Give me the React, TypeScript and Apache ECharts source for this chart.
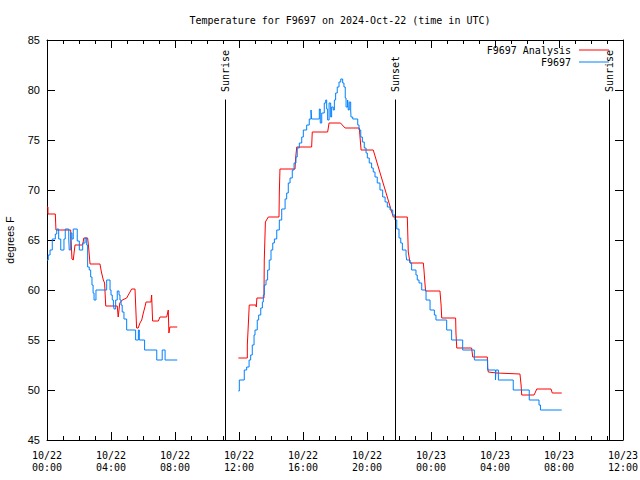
import React, { useEffect, useRef } from 'react';
import * as echarts from 'echarts';

// hours since 2024-10-22 00:00 UTC, degrees F
const analysisMorning: [number, number][] = [
  [0.0, 68.3], [0.06, 68.3], [0.06, 67.6], [0.52, 67.6], [0.56, 66.0], [1.48, 66.0], [1.56, 63.1], [1.64, 63.0],
  [1.75, 64.5], [2.23, 64.5], [2.3, 65.2], [2.54, 65.2], [2.6, 64.3], [2.69, 62.6], [3.31, 62.6], [3.4, 61.8],
  [3.52, 61.0], [3.6, 60.7], [3.67, 58.4], [4.39, 58.4], [4.45, 57.3], [4.55, 58.7], [4.7, 59.0], [4.98, 59.2],
  [5.08, 59.5], [5.19, 59.8], [5.29, 60.1], [5.5, 60.1], [5.6, 56.2], [5.7, 56.2], [5.81, 56.7], [5.92, 57.0],
  [6.02, 57.7], [6.12, 58.3], [6.19, 58.8], [6.5, 58.8], [6.54, 59.5], [6.6, 56.9], [6.96, 56.9], [7.06, 57.3],
  [7.48, 57.3], [7.58, 58.0], [7.62, 55.7], [7.68, 56.3], [8.14, 56.3],
];

const analysisDay: [number, number][] = [
  [11.96, 53.2], [12.52, 53.2], [12.52, 54.5], [12.6, 57.1], [12.64, 58.5], [13.06, 58.5], [13.08, 58.3], [13.12, 59.2],
  [13.56, 59.2], [13.58, 63.0], [13.65, 66.8], [13.83, 67.3], [14.5, 67.3], [14.52, 69.7], [14.56, 72.1], [15.5, 72.1],
  [15.54, 73.2], [15.61, 74.3], [16.54, 74.3], [16.58, 75.8], [17.54, 75.8], [17.63, 76.7], [18.34, 76.7], [18.63, 76.2],
  [19.52, 76.2], [19.58, 75.0], [19.63, 74.0], [20.39, 74.0], [21.64, 67.3], [22.52, 67.3], [22.58, 63.8], [22.69, 62.7],
  [23.52, 62.7], [23.56, 62.0], [23.63, 60.5], [23.66, 59.9], [24.56, 59.9], [24.63, 58.5], [24.67, 57.2], [25.54, 57.2],
  [25.56, 55.7], [25.61, 54.2], [26.54, 54.2], [26.61, 53.3], [27.52, 53.3], [27.54, 52.3], [27.58, 51.8], [28.11, 51.7],
  [29.56, 51.6], [29.63, 50.5], [29.67, 49.5], [30.44, 49.5], [30.5, 49.7], [30.61, 50.1], [31.5, 50.1], [31.58, 49.7],
  [32.17, 49.7],
];

const stationMorning: [number, number][] = [
  [0.0, 63.0], [0.08, 63.5], [0.19, 64.0], [0.33, 65.1], [0.52, 65.6], [0.61, 66.1], [0.73, 65.1], [0.86, 64.0],
  [1.06, 65.1], [1.14, 66.1], [1.36, 65.1], [1.39, 64.0], [1.48, 65.7], [1.56, 65.1], [1.64, 66.1], [1.89, 64.9],
  [2.02, 64.0], [2.23, 64.7], [2.38, 65.2], [2.48, 64.5], [2.54, 62.3], [2.64, 62.0], [2.73, 61.3], [2.81, 60.5],
  [2.88, 59.7], [2.94, 59.0], [3.06, 60.0], [3.73, 61.0], [3.94, 60.0], [4.0, 59.5], [4.08, 59.0], [4.15, 58.5],
  [4.19, 58.1], [4.29, 59.0], [4.39, 59.9], [4.5, 59.5], [4.56, 59.0], [4.63, 58.5], [4.7, 57.8], [4.81, 57.1],
  [4.98, 56.0], [5.54, 55.0], [5.71, 56.0], [5.77, 55.0], [6.1, 54.0], [6.86, 53.0], [7.2, 54.0], [7.38, 53.0],
  [8.14, 53.0],
];

const stationDay: [number, number][] = [
  [11.96, 49.9], [12.02, 51.0], [12.33, 52.0], [12.48, 52.3], [12.63, 53.0], [12.73, 53.5], [12.83, 54.5], [12.94, 55.5],
  [13.0, 56.0], [13.14, 57.0], [13.23, 57.5], [13.36, 58.2], [13.46, 58.8], [13.52, 59.5], [13.58, 60.5], [13.69, 61.0],
  [13.79, 62.0], [13.89, 63.0], [14.0, 64.0], [14.11, 64.7], [14.21, 65.1], [14.36, 66.0], [14.52, 67.0], [14.67, 68.1],
  [14.88, 69.1], [14.98, 69.7], [15.08, 70.7], [15.19, 71.2], [15.33, 72.0], [15.44, 72.7], [15.56, 73.3], [15.64, 74.2],
  [15.77, 74.7], [15.92, 75.3], [16.02, 76.0], [16.23, 76.5], [16.39, 77.1], [16.5, 78.0], [16.54, 77.1], [17.02, 78.1],
  [17.08, 76.7], [17.17, 77.7], [17.33, 78.7], [17.42, 79.0], [17.48, 78.1], [17.54, 77.0], [17.63, 78.7], [17.73, 77.3],
  [17.79, 78.3], [17.89, 78.0], [17.96, 79.0], [18.04, 79.7], [18.14, 80.3], [18.25, 80.8], [18.36, 81.1], [18.48, 80.7],
  [18.56, 80.3], [18.64, 79.2], [18.69, 78.3], [18.79, 79.0], [18.83, 78.0], [18.89, 78.8], [18.98, 78.0], [19.0, 77.3],
  [19.11, 77.1], [19.42, 76.5], [19.5, 76.0], [19.61, 75.3], [19.71, 74.8], [19.83, 74.2], [19.94, 73.7], [20.02, 73.2],
  [20.14, 72.7], [20.29, 72.2], [20.39, 71.8], [20.5, 71.3], [20.64, 70.7], [20.81, 70.0], [20.98, 69.3], [21.13, 68.8],
  [21.27, 68.3], [21.44, 68.0], [21.61, 67.5], [21.75, 67.0], [21.86, 66.1], [22.0, 65.2], [22.11, 64.7], [22.21, 64.0],
  [22.44, 63.5], [22.48, 63.0], [22.69, 62.7], [22.79, 62.0], [23.06, 61.5], [23.14, 61.0], [23.25, 60.7], [23.42, 60.0],
  [23.69, 59.0], [23.94, 58.0], [24.21, 57.5], [24.31, 57.0], [24.98, 56.0], [25.29, 55.0], [25.98, 54.0], [26.71, 53.0],
  [27.54, 52.0], [28.03, 51.0], [28.06, 52.0], [28.21, 51.0], [29.14, 50.0], [30.14, 49.0], [30.75, 48.5], [30.84, 48.0],
  [32.17, 48.0],
];

const xTickLabels = [
  '10/22\n00:00', '10/22\n04:00', '10/22\n08:00', '10/22\n12:00', '10/22\n16:00',
  '10/22\n20:00', '10/23\n00:00', '10/23\n04:00', '10/23\n08:00', '10/23\n12:00',
];
const sunEventNames = ['Sunrise', 'Sunset', 'Sunrise'];
const sunEventHours = [11.15, 21.75, 35.15];

const X_MIN = 0;
const X_MAX = 36;
const X_STEP = 4;
const Y_MIN = 45;
const Y_MAX = 85;
const Y_STEP = 5;
const SUN_LINE_TOP = 79.05;
const SUN_LABEL_BASE = 79.8;

const MONO = 'DejaVu Sans Mono';
const SANS = 'Liberation Sans';
const RED = '#ff0000';
const BLUE = '#0080ff';

function withGap(a: [number, number][], b: [number, number][]) {
  const gapX = a[a.length - 1][0] + 0.0001;
  return [...a, [gapX, '-'], ...b];
}

export default function App() {
  const ref = useRef<HTMLDivElement>(null);
  useEffect(() => {
    if (!ref.current) return;
    const chart = echarts.init(ref.current, undefined, { renderer: 'svg' });

    const xAxisBase = {
      type: 'value' as const,
      min: X_MIN,
      max: X_MAX,
      interval: X_STEP,
      axisLine: { show: true, onZero: false, lineStyle: { color: '#000', width: 1 } },
      axisTick: { show: true, inside: true, length: 8, lineStyle: { color: '#000' } },
      minorTick: { show: true, splitNumber: 4, length: 4, lineStyle: { color: '#000' } },
      splitLine: { show: false },
      minorSplitLine: { show: false },
    };
    const yAxisBase = {
      type: 'value' as const,
      min: Y_MIN,
      max: Y_MAX,
      interval: Y_STEP,
      axisLine: { show: true, onZero: false, lineStyle: { color: '#000', width: 1 } },
      axisTick: { show: true, inside: true, length: 8, lineStyle: { color: '#000' } },
      splitLine: { show: false },
    };

    chart.setOption({
      animation: false,
      backgroundColor: '#ffffff',
      title: {
        text: 'Temperature for F9697 on 2024-Oct-22 (time in UTC)',
        left: 335,
        textAlign: 'center',
        top: 10,
        textStyle: { fontFamily: MONO, fontSize: 10, fontWeight: 'normal', color: '#000' },
      },
      legend: {
        orient: 'vertical',
        right: 26,
        top: 40,
        align: 'right',
        icon: 'rect',
        itemWidth: 30,
        itemHeight: 1,
        itemGap: 2,
        textStyle: { fontFamily: MONO, fontSize: 10, color: '#000', padding: [0, 3, 0, 0] },
        data: ['F9697 Analysis', 'F9697'],
      },
      grid: { left: 47, right: 17, top: 40, bottom: 40, containLabel: false, outerBoundsMode: 'none' },
      xAxis: [
        {
          ...xAxisBase,
          position: 'bottom',
          axisLabel: {
            show: true,
            margin: 9,
            lineHeight: 12,
            fontFamily: MONO,
            fontSize: 10,
            color: '#000',
            showMinLabel: true,
            showMaxLabel: true,
            formatter: (v: number) => xTickLabels[Math.round((v - X_MIN) / X_STEP)] ?? '',
          },
        },
        { ...xAxisBase, position: 'top', axisLabel: { show: false } },
      ],
      yAxis: [
        {
          ...yAxisBase,
          position: 'left',
          name: 'degrees F',
          nameLocation: 'middle',
          nameGap: 32,
          nameTextStyle: { fontFamily: SANS, fontSize: 10.5, color: '#000' },
          axisLabel: { show: true, margin: 7, fontFamily: SANS, fontSize: 11, color: '#000' },
        },
        { ...yAxisBase, position: 'right', axisLabel: { show: false } },
      ],
      series: [
        {
          name: 'F9697 Analysis',
          type: 'line',
          xAxisIndex: 0,
          yAxisIndex: 0,
          data: withGap(analysisMorning, analysisDay),
          symbol: 'none',
          showSymbol: false,
          connectNulls: false,
          lineStyle: { color: RED, width: 1 },
          itemStyle: { color: RED },
          markLine: {
            silent: true,
            symbol: ['none', 'none'],
            label: { show: false },
            lineStyle: { color: '#000', width: 1, type: 'solid' },
            data: sunEventHours.map((h) => [
              { coord: [h, Y_MIN] },
              { coord: [h, SUN_LINE_TOP] },
            ]),
          },
          markPoint: {
            silent: true,
            symbol: 'circle',
            symbolSize: 0,
            itemStyle: { color: 'rgba(0,0,0,0)' },
            label: {
              show: true,
              position: 'inside',
              align: 'left',
              verticalAlign: 'middle',
              rotate: 90,
              fontFamily: MONO,
              fontSize: 10,
              color: '#000',
              formatter: (p: any) => p.name,
            },
            data: sunEventHours.map((h, i) => ({ name: sunEventNames[i], coord: [h, SUN_LABEL_BASE] })),
          },
        },
        {
          name: 'F9697',
          type: 'line',
          step: 'end',
          xAxisIndex: 0,
          yAxisIndex: 0,
          data: withGap(stationMorning, stationDay),
          symbol: 'none',
          showSymbol: false,
          connectNulls: false,
          lineStyle: { color: BLUE, width: 1 },
          itemStyle: { color: BLUE },
        },
      ],
    });
    return () => chart.dispose();
  }, []);
  return (
    <div
      ref={ref}
      style={{ position: 'fixed', left: 0, top: 0, width: 640, height: 480, background: '#fff' }}
    />
  );
}
